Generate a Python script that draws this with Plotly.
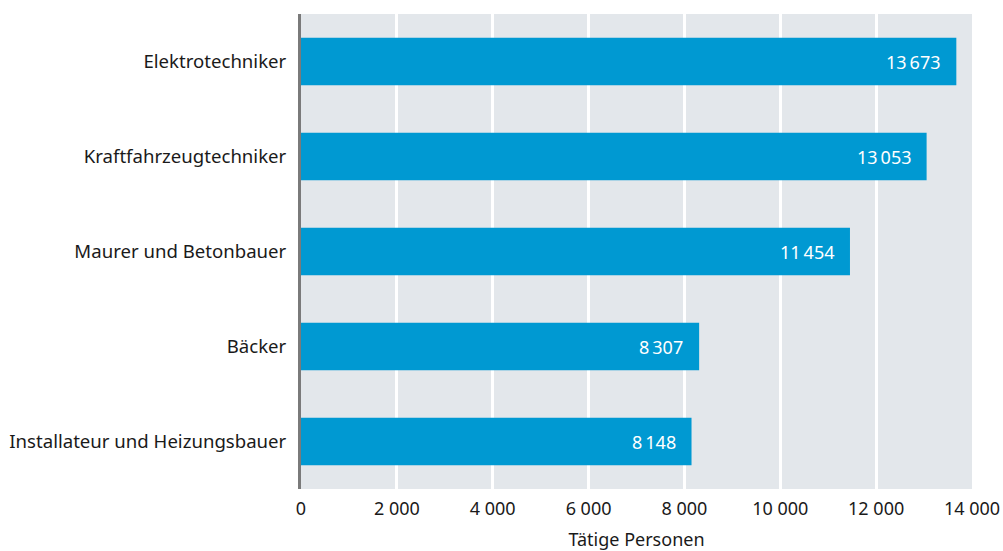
import plotly.graph_objects as go

categories = ["Elektrotechniker", "Kraftfahrzeugtechniker", "Maurer und Betonbauer",
              "Bäcker", "Installateur und Heizungsbauer"]
values = [13673, 13053, 11454, 8307, 8148]
tick_vals = [0, 2000, 4000, 6000, 8000, 10000, 12000, 14000]
x_title = "Tätige Personen"

FONT = "Noto Sans"
BAR = "#0099d2"

fig = go.Figure()
fig.add_trace(go.Bar(
    y=categories, x=values, orientation="h",
    marker=dict(color=BAR, line=dict(width=0)),
    width=0.5, hoverinfo="skip",
))

def fmt(v):
    return f"{v:,}".replace(",", "\u2009")

for c, v in zip(categories, values):
    fig.add_annotation(x=v, y=c, text=fmt(v), showarrow=False,
                       xanchor="right", yanchor="middle", xshift=-14,
                       font=dict(family=FONT, size=18, color="white"))

fig.update_layout(
    width=1003, height=551,
    margin=dict(l=301, r=31, t=14, b=62),
    paper_bgcolor="white", plot_bgcolor="#e3e7eb",
    separators=", ",
    font=dict(family=FONT, size=18, color="#1a1a1a"),
    showlegend=False, bargap=0.5,
)
fig.update_xaxes(
    range=[0, 14000], tickvals=tick_vals, tickformat=",d",
    showgrid=True, gridcolor="white", gridwidth=3,
    zeroline=False, showline=False, ticks="", automargin=False,
    ticklabelstandoff=7,
    title=dict(text=x_title, standoff=14, font=dict(size=18)),
    tickfont=dict(size=18),
)
fig.update_yaxes(
    autorange="reversed", showgrid=False, zeroline=False,
    showline=True, linecolor="#7a7a7a", linewidth=3, automargin=False,
    ticks="", ticklabelstandoff=8, tickfont=dict(size=18.6),
)
fig.write_html("out.html")
